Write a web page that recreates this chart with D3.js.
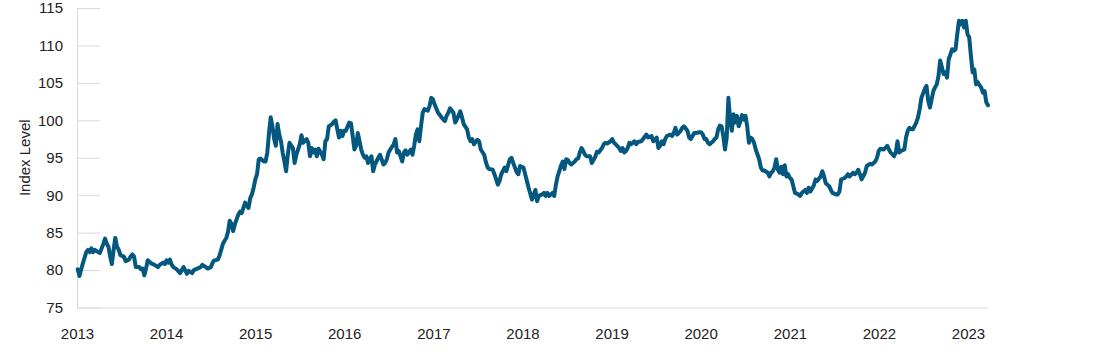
<!DOCTYPE html>
<html>
<head>
<meta charset="utf-8">
<script src="https://cdn.jsdelivr.net/npm/d3@7"></script>
<style>
    body { margin: 0; background: #fff; }
    #index-chart { width: 1100px; height: 354px; }
    .axis text { font-family: "Liberation Sans", Arial, sans-serif; font-size: 15px; fill: #222; }
    .axis path, .axis line { stroke: #d9d9d9; stroke-width: 1; }
    .axisTitle { font-family: "Liberation Sans", Arial, sans-serif; font-size: 15px; fill: #222; }
    .indexLine { fill: none; stroke: #04587f; stroke-width: 4; stroke-linejoin: round; stroke-linecap: round; }
</style>
</head>
<body>
<div id="index-chart"></div>
<script>

// first week of the series, every point below is [week number, index level]
var startDate = new Date(2013, 0, 4);

var weeklyLevel = [
    // 2013 - 2014
    [0,80.1],[1,79.2],[3,80.9],[5,82.4],[6,82.7],[7,82.4],[8,82.9],[9,82.4],[10,82.7],[12,82.4],
    [13,82.3],[15,83.5],[16,84.2],[17,83.5],[18,83.1],[19,81.8],[20,80.8],[21,82.7],[22,84.3],[23,83.1],
    [24,82.7],[25,82.0],[27,81.8],[28,81.2],[30,81.4],[31,81.8],[32,82.1],[33,81.8],[34,80.4],[36,80.4],
    [37,80.1],[38,80.2],[39,79.3],[40,80.2],[41,81.3],[43,80.9],[45,80.7],[47,80.4],[48,80.7],[50,81.0],
    [51,80.8],[52,81.3],[53,81.0],[54,81.4],[55,80.7],[56,80.4],[58,80.1],[60,79.6],[61,80.0],[62,80.4],
    [64,79.5],[65,79.9],[67,79.6],[68,80.0],[70,80.2],[72,80.4],[73,80.7],[75,80.4],[76,80.2],[78,80.4],
    [79,81.0],[80,81.3],[82,81.4],[83,81.9],[84,82.7],[85,83.5],[87,84.3],[88,85.1],[89,86.6],[90,86.2],
    [91,85.2],
    // 2014 - 2016
    [92,86.1],[94,87.4],[95,87.8],[96,87.6],[98,89.0],[99,88.6],[100,88.3],[101,89.6],[102,90.1],[103,91.0],
    [104,92.1],[105,92.8],[106,94.8],[107,94.9],[109,94.5],[110,94.5],[111,95.7],[112,98.3],[113,100.4],[114,99.2],
    [115,97.5],[116,96.6],[117,99.5],[118,98.1],[119,97.2],[120,95.7],[121,94.5],[122,93.2],[123,95.4],[124,97.0],
    [126,96.3],[127,94.3],[128,95.4],[129,96.1],[130,96.8],[131,98.0],[132,97.0],[134,97.5],[135,97.0],[136,95.2],
    [137,96.3],[138,95.7],[139,96.1],[140,95.2],[141,96.2],[143,95.4],[144,94.8],[145,97.2],[146,97.5],[147,99.2],
    [149,99.5],[150,99.8],[151,100.0],[152,98.8],[153,97.7],[154,98.6],[155,97.9],[156,98.6],[157,98.6],[159,99.7],
    [160,99.6],[161,97.9],[162,96.1],[163,96.6],[164,98.3],[165,97.2],[166,96.1],[167,95.4],[168,95.0],[169,95.2],
    [170,94.3],[171,94.8],[172,95.2],[173,93.2],[174,94.1],[176,95.0],[177,95.4],[179,94.1],[180,94.3],
    // 2016 - 2018
    [181,94.8],[182,95.7],[183,96.1],[185,96.8],[186,97.5],[187,95.7],[188,95.9],[190,94.5],[191,95.7],[192,96.0],
    [193,95.4],[195,96.1],[196,95.4],[197,96.6],[198,98.1],[199,98.8],[200,97.2],[201,99.2],[202,101.0],[203,101.5],
    [205,101.3],[206,101.9],[207,103.0],[208,102.8],[209,102.1],[211,101.0],[212,100.7],[213,100.4],[215,99.9],[216,100.6],
    [217,101.0],[218,101.6],[220,101.0],[221,99.7],[222,100.1],[224,101.2],[225,100.4],[226,99.5],[228,98.8],[229,97.7],
    [230,97.2],[231,97.5],[232,96.8],[234,97.4],[235,97.2],[236,96.1],[238,95.4],[239,94.4],[240,93.7],[241,93.5],
    [243,93.4],[244,92.8],[246,91.4],[247,91.9],[248,92.8],[250,93.7],[251,93.2],[253,94.8],[254,95.0],[255,94.3],
    [257,93.1],[258,92.8],[259,93.9],[261,93.7],[262,92.8],[263,91.9],[264,91.0],[266,89.4],[267,90.1],[268,90.7],
    [269,89.2],[270,89.9],[272,90.1],[273,90.3],
    // 2018 - 2019
    [274,89.9],[275,90.3],[276,89.9],[278,90.3],[279,89.9],[280,91.4],[281,92.5],[282,93.2],[283,94.0],[284,94.5],
    [285,93.5],[286,94.8],[287,94.7],[288,94.3],[289,94.1],[291,94.5],[292,94.8],[293,94.9],[294,95.7],[295,96.3],
    [296,95.9],[297,95.4],[298,95.2],[300,95.2],[301,94.3],[303,95.1],[304,95.8],[305,95.7],[307,96.3],[308,96.8],
    [309,97.0],[310,96.9],[312,97.2],[313,97.5],[314,97.0],[315,96.8],[317,96.3],[318,95.9],[319,96.3],[320,95.7],
    [321,95.9],[322,96.3],[323,97.0],[324,96.8],[326,97.2],[327,96.8],[328,97.1],[330,97.2],[331,97.5],[333,98.1],
    [334,97.7],[336,97.9],[337,97.2],[339,97.7],[340,96.3],[341,96.6],[342,97.2],[343,96.8],[344,97.5],[345,97.9],
    [347,98.1],[348,97.9],[349,98.3],[350,99.0],[351,98.1],[353,98.6],[354,99.0],[355,99.2],[357,98.6],[358,97.7],
    [359,97.5],[361,98.3],[362,98.3],[364,98.4],
    // 2020 - 2021
    [365,98.4],[366,98.1],[367,97.5],[368,97.5],[369,97.0],[370,96.8],[372,97.2],[373,97.5],[374,97.7],[375,98.8],
    [376,99.3],[377,99.2],[378,97.9],[379,96.1],[380,97.7],[381,103.0],[382,100.1],[383,98.6],[384,100.8],[385,99.7],
    [386,100.6],[387,99.2],[388,99.9],[389,100.7],[390,100.1],[391,100.6],[392,99.2],[393,97.0],[394,97.7],[395,97.5],
    [396,97.0],[397,96.1],[399,94.8],[400,93.7],[401,93.3],[402,93.3],[404,93.0],[405,92.5],[406,93.0],[407,93.2],
    [408,93.7],[409,94.8],[410,93.4],[411,93.0],[412,93.8],[413,92.8],[414,94.0],[415,92.5],[416,92.8],[417,92.3],
    [418,92.1],[419,91.2],[420,90.3],[422,90.1],[423,89.9],[424,90.3],[426,90.7],[427,90.3],[428,91.0],[429,90.5],
    [431,91.3],[432,92.1],[433,91.9],[435,92.5],[436,93.2],[437,92.5],[438,91.6],[440,91.2],[441,90.7],[442,90.3],
    [444,90.1],[445,90.1],[446,90.5],[447,92.1],[449,92.3],[450,92.5],[451,92.8],[452,92.5],[454,93.0],[455,92.8],
    // 2021 - 2023
    [456,93.0],[457,93.4],[458,92.8],[459,92.1],[461,93.0],[462,93.9],[464,94.2],[465,94.1],[467,94.5],[468,95.0],
    [469,95.9],[470,96.2],[472,96.1],[474,96.6],[475,96.1],[476,95.7],[478,95.2],[479,95.7],[480,97.2],[481,95.7],
    [482,95.9],[484,96.1],[485,97.7],[486,98.6],[487,99.0],[488,98.8],[489,98.8],[491,99.7],[492,100.4],[493,101.5],
    [494,103.0],[496,104.2],[497,104.6],[498,102.6],[499,101.7],[500,102.8],[501,103.9],[502,104.4],[503,104.8],[504,105.9],
    [505,108.0],[506,107.1],[507,106.2],[508,106.4],[509,105.7],[510,108.2],[511,108.8],[512,109.5],[513,109.3],[514,109.5],
    [515,111.5],[516,113.3],[517,112.8],[518,113.3],[519,112.4],[520,113.3],[521,111.5],[522,111.1],[523,108.6],[524,106.4],
    [525,106.8],[526,104.8],[527,105.1],[528,104.7],[529,104.4],[530,103.7],[531,103.9],[532,102.4],[533,102.0]
];

var yearTicks = [2013, 2014, 2015, 2016, 2017, 2018, 2019, 2020, 2021, 2022, 2023];
var levelTicks = [75, 80, 85, 90, 95, 100, 105, 110, 115];
var axisTitle = "Index Level";

/**
 * Draws the index level line chart into #index-chart
 */
function drawIndexChart() {
    var margin = {top: 8, left: 77, right: 112, bottom: 46.5};
    var width = 1100, height = 354;

    var svg = d3.select("#index-chart").append("svg")
        .attr("width", width)
        .attr("height", height);

    var points = weeklyLevel.map(function(row) {
        return {date: d3.timeDay.offset(startDate, row[0] * 7), level: row[1]};
    });

    // x axis runs a little past the last year tick, like the original
    var xScale = d3.scaleTime()
        .domain([new Date(2013, 0, 1), new Date(2023, 2, 24)])
        .range([margin.left, width - margin.right]);

    var yScale = d3.scaleLinear()
        .domain([levelTicks[0], levelTicks[levelTicks.length - 1]])
        .range([height - margin.bottom, margin.top]);

    //y axis with short grey stubs instead of full gridlines
    var yAxis = d3.axisLeft(yScale)
        .tickValues(levelTicks)
        .tickSizeInner(-23)
        .tickSizeOuter(0)
        .tickPadding(14);

    svg.append("g")
        .attr("class", "axis")
        .attr("transform", "translate(" + margin.left + ",0)")
        .call(yAxis);

    var xAxis = d3.axisBottom(xScale)
        .tickValues(yearTicks.map(function(y) { return new Date(y, 0, 1); }))
        .tickFormat(d3.timeFormat("%Y"))
        .tickSize(0)
        .tickPadding(21);

    svg.append("g")
        .attr("class", "axis")
        .attr("transform", "translate(0," + (height - margin.bottom) + ")")
        .call(xAxis);

    svg.append("text")
        .attr("class", "axisTitle")
        .attr("text-anchor", "middle")
        .attr("transform", "translate(30," + ((margin.top + height - margin.bottom) / 2) + ") rotate(-90)")
        .text(axisTitle);

    var line = d3.line()
        .x(function(d) { return xScale(d.date); })
        .y(function(d) { return yScale(d.level); });

    svg.append("path")
        .datum(points)
        .attr("class", "indexLine")
        .attr("d", line);
}

drawIndexChart();
</script>
</body>
</html>
